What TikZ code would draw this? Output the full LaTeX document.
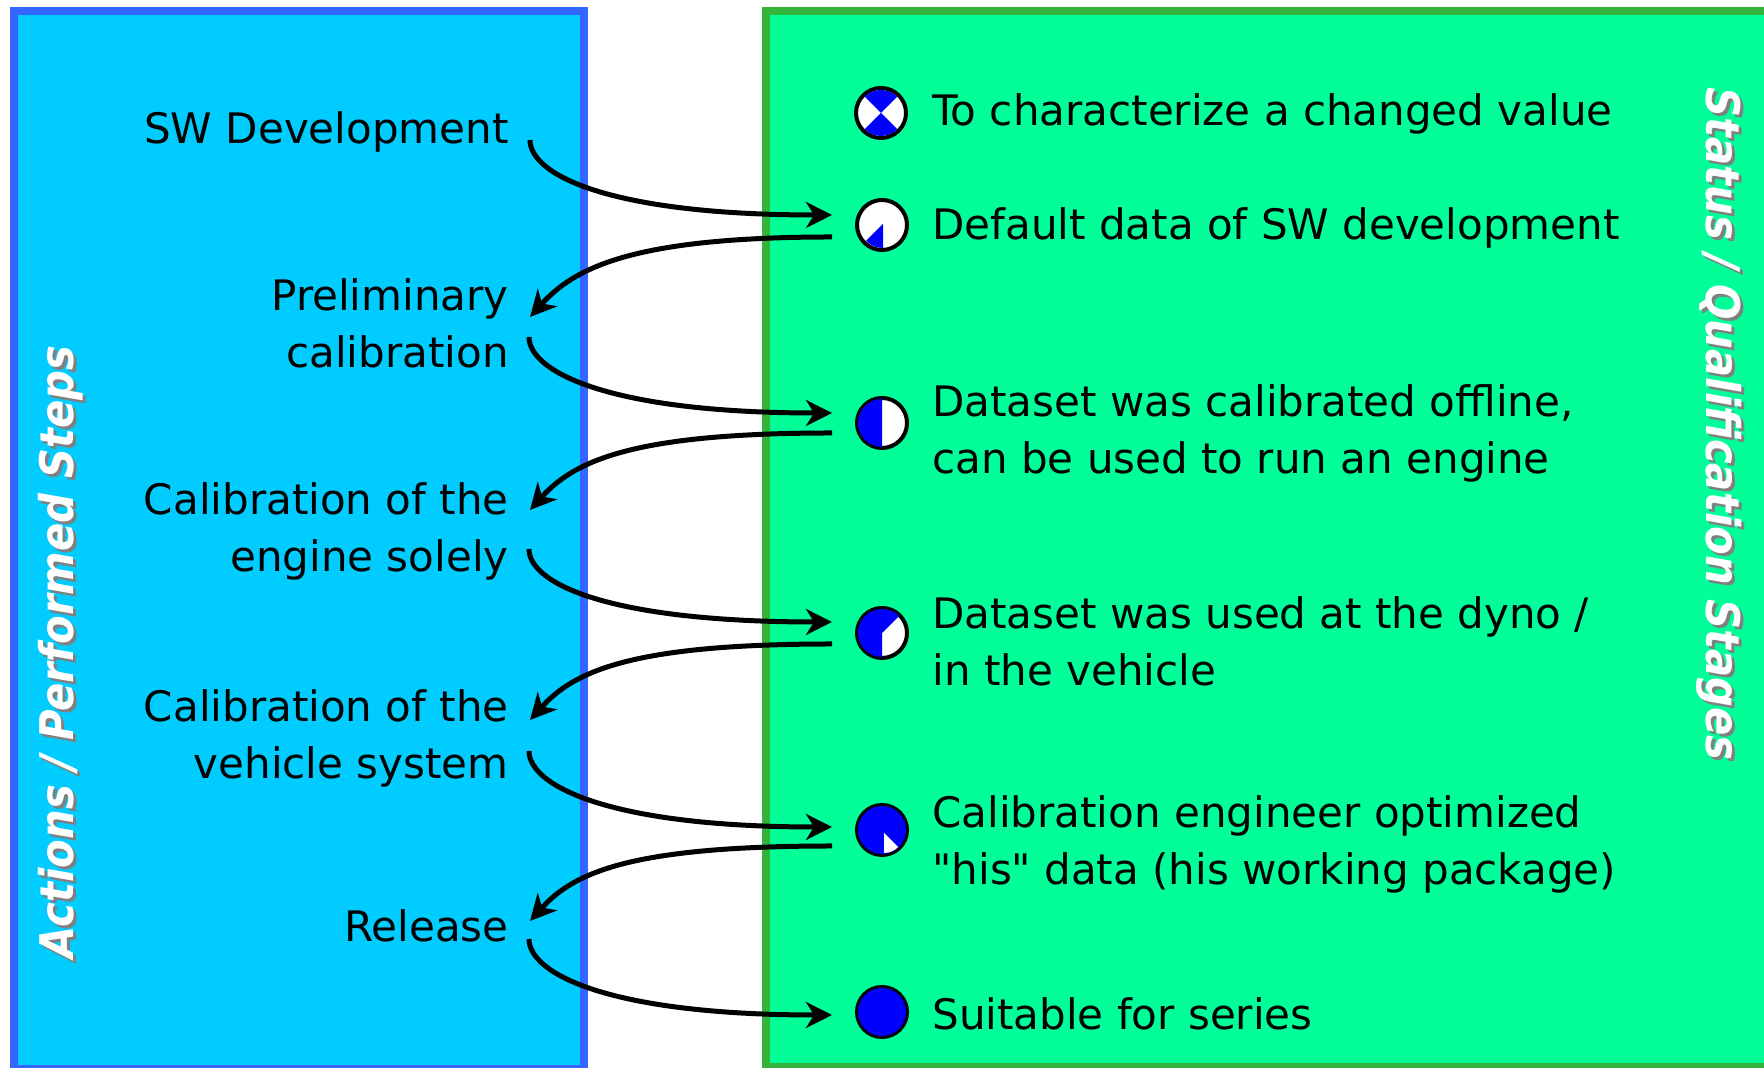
\documentclass[tikz,border=0pt]{standalone}
\usepackage{fontspec}
\setmainfont{DejaVu Sans}[Ligatures=TeXOff]
\newfontfamily\titlefont{DejaVu Sans Condensed}
\usetikzlibrary{arrows.meta,calc}
\definecolor{actionfill}{HTML}{00CCFF}
\definecolor{actionline}{HTML}{3366FF}
\definecolor{statusfill}{HTML}{00FF99}
\definecolor{statusline}{HTML}{33B53C}
\tikzset{
	panel/.style={rectangle,line width=4pt,inner sep=0pt},
	action/.style={anchor=east,align=right,inner sep=0pt,font=\fontsize{21}{28.5}\selectfont},
	status/.style={anchor=west,align=left,inner sep=0pt,font=\fontsize{21}{28.5}\selectfont},
	sidetitle/.style={inner sep=0pt,font=\titlefont\bfseries\itshape\fontsize{23.2}{28}\selectfont},
	statusdot/.style={circle,draw=black,fill=white,line width=2pt,minimum size=25pt,inner sep=0pt},
	flow/.style={-{Stealth[length=13pt,width=13pt,inset=4pt]},line width=2.5pt},
	forward/.style={flow,out=-90,in=180,out distance=17.5pt,in distance=111pt},
	backward/.style={flow,out=180,in=48,out distance=100pt,in distance=33pt}
}
\begin{document}
\begin{tikzpicture}[x=0.5pt,y=0.5pt]
		\useasboundingbox (0,0) rectangle (1764,1068);
		\node[panel,draw=actionline,fill=actionfill,minimum width=285pt,minimum height=529pt] (left) at (299,528) {};
		\node[panel,draw=statusline,fill=statusfill,minimum width=503pt,minimum height=528pt] (right) at (1269,529) {};
%
		\node[sidetitle,gray,rotate=90] (lshadow) at (64,413) {Actions / Performed Steps};
		\node[sidetitle,white,rotate=90] (ltitle) at (61,416) {Actions / Performed Steps};
		\node[sidetitle,gray,rotate=-90] (rshadow) at (1722,641) {Status / Qualification Stages};
		\node[sidetitle,white,rotate=-90] (rtitle) at (1719,644) {Status / Qualification Stages};
%
		\node[action] (sw) at (509,936) {SW Development};
		\node[action] (prelim) at (509,745) {Preliminary\\calibration};
		\node[action] (engine) at (509,537) {Calibration of the\\engine solely};
		\node[action] (vehicle) at (509,330) {Calibration of the\\vehicle system};
		\node[action] (release) at (509,142) {Release};
%
		\node[statusdot] (d1) at (881,955) {};
		\node[statusdot] (d2) at (882,843) {};
		\node[statusdot] (d3) at (882,645) {};
		\node[statusdot] (d4) at (882,435) {};
		\node[statusdot] (d5) at (882,238) {};
		\node[statusdot] (d6) at (882,56) {};
		\fill[blue] (d1.center) -- +(45:23) arc (45:135:23) -- cycle;
		\fill[blue] (d1.center) -- +(225:23) arc (225:315:23) -- cycle;
		\fill[blue] ($(d2.center)+(1,1)$) -- +(270:24) arc (270:225:24) -- cycle;
		\fill[blue] (d3.center) -- +(90:24) arc (90:270:24) -- cycle;
		\fill[blue] (d4.center) -- +(45:24) arc (45:270:24) -- cycle;
		\fill[blue] (d5.center) circle (24);
		\fill[white] ($(d5.center)+(2,-3)$) -- +(270:20) arc (270:315:20) -- cycle;
		\fill[blue] (d6.center) circle (24);
%
		\node[status] (t1) at (932,954) {To characterize a changed value};
		\node[status] (t2) at (932,840) {Default data of SW development};
		\node[status] (t3) at (932,635) {Dataset was calibrated offline,\\can be used to run an engine};
		\node[status] (t4) at (932,427) {Dataset was used at the dyno /\\in the vehicle};
		\node[status] (t5) at (932,224) {Calibration engineer optimized\\"his" data (his working package)};
		\node[status] (t6) at (932,54) {Suitable for series};
%
		\draw[forward] ($(sw.east)+(21,-8)$) to ($(d2.west)+(-23,10)$);
		\draw[backward] ($(d2.west)+(-23,-12)$) to ($(prelim.east)+(21,6)$);
		\draw[forward] ($(prelim.east)+(20,-14)$) to ($(d3.west)+(-23,10)$);
		\draw[backward] ($(d3.west)+(-23,-10)$) to ($(engine.east)+(21,21)$);
		\draw[forward] ($(engine.east)+(20,-18)$) to ($(d4.west)+(-23,11)$);
		\draw[backward] ($(d4.west)+(-23,-11)$) to ($(vehicle.east)+(21,18)$);
		\draw[forward] ($(vehicle.east)+(20,-13)$) to ($(d5.west)+(-23,3)$);
		\draw[backward] ($(d5.west)+(-23,-16)$) to ($(release.east)+(21,5)$);
		\draw[forward] ($(release.east)+(20,-13)$) to ($(d6.west)+(-23,-3)$);
	\end{tikzpicture}
\end{document}
